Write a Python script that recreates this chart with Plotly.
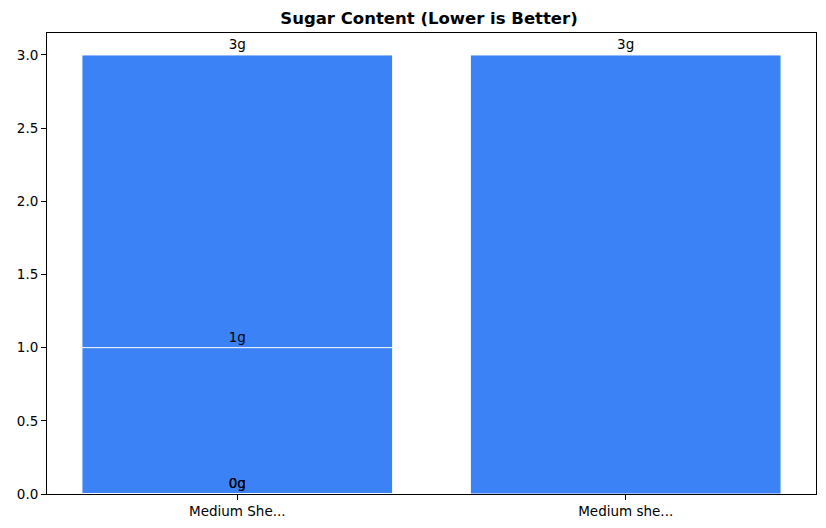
import plotly.graph_objects as go

# products in drawing order (later ones paint over earlier ones)
products = ["Medium She...", "Medium She...", "Medium She...", "Medium She...", "Medium she..."]
sugar_g = [3, 1, 0, 0, 3]
labels = [f"{v}g" for v in sugar_g]

bar_color = "#3b82f6"

fig = go.Figure()
for name, val, lab in zip(products, sugar_g, labels):
    fig.add_trace(go.Bar(
        x=[name],
        y=[val],
        text=[lab],
        textposition="outside",
        textfont=dict(color="black", size=13.5),
        cliponaxis=False,
        width=0.8,
        marker=dict(color=bar_color, line=dict(color="white", width=1)),
        showlegend=False,
    ))

axis_style = dict(
    showline=True, linecolor="black", linewidth=1, mirror=True,
    ticks="outside", ticklen=5, tickcolor="black",
    showgrid=False, zeroline=False,
    tickfont=dict(size=13.5, color="black"),
)

# page body has an 8px margin, so the figure is sized to fill the rest
fig.update_layout(
    barmode="overlay",
    width=818, height=520,
    margin=dict(l=34, r=9, t=25, b=26),
    paper_bgcolor="white", plot_bgcolor="white",
    font=dict(family="DejaVu Sans", color="black"),
    title=dict(text="<b>Sugar Content (Lower is Better)</b>", x=0.5147, xanchor="center",
               y=0.981, yanchor="middle", font=dict(size=16.5)),
)
fig.update_xaxes(range=[-0.49, 1.49], **axis_style)
fig.update_yaxes(range=[0, 3.15], tickvals=[0, 0.5, 1, 1.5, 2, 2.5, 3],
                 ticktext=["0.0", "0.5", "1.0", "1.5", "2.0", "2.5", "3.0"], **axis_style)

fig.write_html("out.html")
